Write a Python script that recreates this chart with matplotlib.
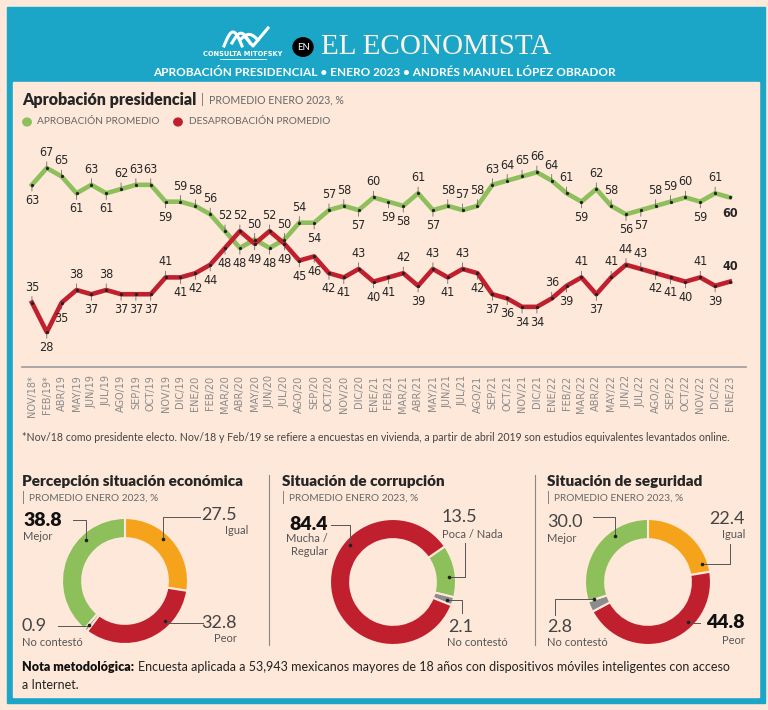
import numpy as np
import matplotlib
matplotlib.use('Agg')
import matplotlib.pyplot as plt
from matplotlib import font_manager
from matplotlib.lines import Line2D
from matplotlib.patches import Rectangle, Circle

# datos
meses = ['NOV/18*', 'FEB/19*', 'ABR/19', 'MAY/19', 'JUN/19', 'JUL/19', 'AGO/19', 'SEP/19',
         'OCT/19', 'NOV/19', 'DIC/19', 'ENE/20', 'FEB/20', 'MAR/20', 'ABR/20', 'MAY/20',
         'JUN/20', 'JUL/20', 'AGO/20', 'SEP/20', 'OCT/20', 'NOV/20', 'DIC/20', 'ENE/21',
         'FEB/21', 'MAR/21', 'ABR/21', 'MAY/21', 'JUN/21', 'JUL/21', 'AGO/21', 'SEP/21',
         'OCT/21', 'NOV/21', 'DIC/21', 'ENE/22', 'FEB/22', 'MAR/22', 'ABR/22', 'MAY/22',
         'JUN/22', 'JUL/22', 'AGO/22', 'SEP/22', 'OCT/22', 'NOV/22', 'DIC/22', 'ENE/23']
aprobacion = [63, 67, 65, 61, 63, 61, 62, 63, 63, 59, 59, 58, 56, 52, 48, 50,
              48, 50, 54, 54, 57, 58, 57, 60, 59, 58, 61, 57, 58, 57, 58, 63,
              64, 65, 66, 64, 61, 59, 62, 58, 56, 57, 58, 59, 60, 59, 61, 60]
desaprobacion = [35, 28, 35, 38, 37, 38, 37, 37, 37, 41, 41, 42, 44, 48, 52, 49,
                 52, 49, 45, 46, 42, 41, 43, 40, 41, 42, 39, 43, 41, 43, 42, 37,
                 36, 34, 34, 36, 39, 41, 37, 41, 44, 43, 42, 41, 40, 41, 39, 40]
# +1 etiqueta arriba, -1 abajo
pos_aprob = [-1, 1, 1, -1, 1, -1, 1, 1, 1, -1, 1, 1, 1, 1, -1, 1,
             -1, 1, 1, -1, 1, 1, -1, 1, -1, -1, 1, -1, 1, 1, 1, 1,
             1, 1, 1, 1, 1, -1, 1, 1, -1, -1, 1, 1, 1, -1, 1, -1]
pos_desap = [1, -1, -1, 1, -1, 1, -1, -1, -1, 1, -1, -1, -1, -1, 1, -1,
             1, -1, -1, -1, -1, -1, 1, -1, -1, 1, -1, 1, -1, 1, -1, -1,
             -1, -1, -1, 1, -1, 1, -1, 1, 1, 1, -1, -1, -1, 1, -1, 1]

econ_cat = ['Igual', 'Peor', 'No contestó', 'Mejor']
econ_val = [27.5, 32.8, 0.9, 38.8]
corr_cat = ['Poca / Nada', 'No contestó', 'Mucha /\nRegular']
corr_val = [13.5, 2.1, 84.4]
seg_cat = ['Igual', 'Peor', 'No contestó', 'Mejor']
seg_val = [22.4, 44.8, 2.8, 30.0]

W, H = 768, 710
BG = '#fde8d9'
BLUE = '#1ba6c8'
GREEN = '#8dbf5b'
RED = '#c0202e'
ORANGE = '#f6a31c'
GRIS = '#8c8c8c'
TXT = '#262626'
plt.rcParams['font.family'] = ['Lato', 'DejaVu Sans']

# fuente angosta para las cifras de la serie
fuentes = {(f.name, f.stretch) for f in font_manager.fontManager.ttflist}
if any(n == 'Liberation Sans Narrow' for n, s in fuentes):
    ANGOSTA = dict(family=['Liberation Sans Narrow', 'DejaVu Sans'])
    T_NUM, T_MES = 9.5, 8
elif ('DejaVu Sans', 'condensed') in fuentes:
    ANGOSTA = dict(family=['DejaVu Sans'], fontstretch='condensed')
    T_NUM, T_MES = 9, 7.8
else:
    ANGOSTA = dict(family=['Roboto', 'DejaVu Sans'])
    T_NUM, T_MES = 8.5, 7.2

fig = plt.figure(figsize=(W / 100, H / 100), dpi=100, facecolor=BG)


def fx(x):
    return x / W


def fy(y):
    return 1 - y / H


def caja(x0, y0, x1, y1, color):
    fig.patches.append(Rectangle((fx(x0), fy(y1)), (x1 - x0) / W, (y1 - y0) / H,
                                 transform=fig.transFigure, color=color, zorder=-5))


def linea(xs, ys, **kw):
    fig.add_artist(Line2D([fx(v) for v in xs], [fy(v) for v in ys],
                          transform=fig.transFigure, **kw))


def texto(x, y, s, **kw):
    kw.setdefault('va', 'center')
    kw.setdefault('color', TXT)
    return fig.text(fx(x), fy(y), s, **kw)


# marco y cabecera
caja(7, 7, 765, 703, BLUE)
caja(13, 82, 759, 697, BG)

# logo (simplificado)
texto(243, 54, 'CONSULTA MITOFSKY', ha='center', fontsize=5.3, fontweight='bold',
      color='white', **ANGOSTA)
linea([220, 266], [59, 59], color='white', lw=0.6)
t = np.linspace(0, 1, 30)
for k, (dx, dy) in enumerate([(0, 0), (8, -3), (16, -6)]):
    linea(224 + dx + 18 * t, 46 + dy - 14 * np.sin(np.pi * t) * (1 - 0.3 * k), color='white', lw=2.2)
linea([246, 253, 268], [38, 46, 28], color='white', lw=2.2)

fig.patches.append(Circle((fx(303), fy(47)), 10 / W, transform=fig.transFigure,
                          color='black', zorder=2))
texto(303, 47, 'EN', ha='center', fontsize=6.8, color='white', zorder=3)
texto(321, 47, 'EL ECONOMISTA', ha='left', fontsize=21, color='#fbf1e6',
      family=['Liberation Serif', 'DejaVu Serif'])
texto(384, 73, 'APROBACIÓN PRESIDENCIAL • ENERO 2023 • ANDRÉS MANUEL LÓPEZ OBRADOR',
      ha='center', fontsize=8.5, fontweight='bold', color='white')

# titulo serie
texto(22, 100, 'Aprobación presidencial', ha='left', fontsize=11.5, fontweight='heavy')
texto(201, 100, '|', ha='left', fontsize=9, color='#777777')
texto(209, 100, 'PROMEDIO ENERO 2023, %', ha='left', fontsize=7.6, color='#666666')
fig.patches.append(Circle((fx(27), fy(122)), 4.2 / W, transform=fig.transFigure, color=GREEN))
texto(37, 122, 'APROBACIÓN PROMEDIO', ha='left', fontsize=7.3, color='#666666')
fig.patches.append(Circle((fx(178), fy(122)), 4.2 / W, transform=fig.transFigure, color=RED))
texto(189, 122, 'DESAPROBACIÓN PROMEDIO', ha='left', fontsize=7.3, color='#666666')

# grafica de lineas
ax = fig.add_axes([fx(22), fy(367), (746 - 22) / W, (367 - 139) / H])
ax.set_facecolor('none')
x = np.arange(len(meses))
ax.plot(x, aprobacion, color=GREEN, lw=3.3, zorder=3)
ax.plot(x, desaprobacion, color=RED, lw=3.3, zorder=3)
ax.plot(x, aprobacion, 'o', ms=1.3, color='#222222', zorder=4)
ax.plot(x, desaprobacion, 'o', ms=1.3, color='#222222', zorder=4)
ax.set_xlim(-0.67, len(meses) - 1 + 1.08)
ax.set_ylim(19.7, 73.9)
for serie, pos in ((aprobacion, pos_aprob), (desaprobacion, pos_desap)):
    for i, (v, p) in enumerate(zip(serie, pos)):
        ultimo = i == len(serie) - 1
        ax.annotate(str(v), (i, v), xytext=(0, 6.5 * p), textcoords='offset points',
                    ha='center', va='bottom' if p > 0 else 'top', fontsize=T_NUM,
                    fontweight='bold' if ultimo else 'normal', color=TXT, **ANGOSTA,
                    arrowprops=None if ultimo else dict(arrowstyle='-', lw=0.5, color='#555555',
                                                        shrinkA=0, shrinkB=0))
ax.set_xticks(x)
ax.set_xticklabels(meses, rotation=90, fontsize=T_MES, color='#8a8a8a', **ANGOSTA)
ax.set_yticks([])
ax.tick_params(axis='x', length=0, pad=6)
for s in ('top', 'left', 'right'):
    ax.spines[s].set_visible(False)
ax.spines['bottom'].set_color('#9a9a9a')
ax.spines['bottom'].set_linewidth(1.2)

texto(22, 438, '*Nov/18 como presidente electo. Nov/18 y Feb/19 se refiere a encuestas en vivienda, '
      'a partir de abril 2019 son estudios equivalentes levantados online.',
      ha='left', fontsize=7.6, color='#444444')

# separadores
linea([269, 269], [475, 645], color='#888888', lw=0.8)
linea([535, 535], [475, 645], color='#888888', lw=0.8)

R = 63


def dona(cx, cy, valores, colores, inicio, titulo, tx, etiquetas):
    a = fig.add_axes([fx(cx - R), fy(cy + R), 2 * R / W, 2 * R / H])
    a.pie(valores, colors=colores, startangle=inicio, counterclock=False, radius=1,
          wedgeprops=dict(width=0.32, edgecolor=BG, linewidth=1.5))
    a.set_xlim(-1, 1)
    a.set_ylim(-1, 1)
    a.axis('off')
    texto(tx, 482, titulo, ha='left', fontsize=11, fontweight='heavy')
    texto(tx, 498, '|', ha='left', fontsize=9, color='#777777')
    texto(tx + 7, 498, 'PROMEDIO ENERO 2023, %', ha='left', fontsize=7.3, color='#666666')
    for e in etiquetas:
        ang = np.radians(e['ang'])
        axp = cx + 0.9 * R * np.cos(ang)
        ayp = cy - 0.9 * R * np.sin(ang)
        sx, sy = e['ini']
        if e['ruta'] == 'h':
            linea([sx, axp, axp], [sy, sy, ayp], color='#555555', lw=0.7)
        else:
            linea([sx, sx, axp], [sy, ayp, ayp], color='#555555', lw=0.7)
        linea([axp], [ayp], marker='o', ms=1.6, color='#222222')
        texto(e['x'], e['y'], e['val'], ha=e['ha'], fontsize=14 if e['neg'] else 13,
              fontweight='heavy' if e['neg'] else 'normal', color='#111111' if e['neg'] else '#444444')
        texto(e.get('cx', e['x']), e['cy'], e['cat'], ha=e['ha'], fontsize=8, color='#555555',
              va='top' if '\n' in e['cat'] else 'center', linespacing=1.25)


def fmt(v):
    return f'{v:.1f}'


dona(125, 581, econ_val, [ORANGE, RED, GRIS, GREEN], 90, 'Percepción situación económica', 22, [
    dict(val=fmt(econ_val[3]), cat=econ_cat[3], x=23, y=520, cy=537, ha='left', neg=True,
         ini=(73, 520), ruta='h', ang=134),
    dict(val=fmt(econ_val[0]), cat=econ_cat[0], x=237, cx=248, y=515, cy=531, ha='right', neg=False,
         ini=(200, 517), ruta='h', ang=48),
    dict(val=fmt(econ_val[2]), cat=econ_cat[2], x=22, y=626, cy=642, ha='left', neg=False,
         ini=(58, 626), ruta='h', ang=-129),
    dict(val=fmt(econ_val[1]), cat=econ_cat[1], x=237, y=623, cy=639, ha='right', neg=False,
         ini=(203, 623), ruta='h', ang=-45),
])

dona(393, 582, corr_val, [GREEN, GRIS, RED], 34.5, 'Situación de corrupción', 282, [
    dict(val=fmt(corr_val[2]), cat=corr_cat[2], x=328, y=525, cy=533, ha='right', neg=True,
         ini=(331, 525), ruta='h', ang=139),
    dict(val=fmt(corr_val[0]), cat=corr_cat[0], x=442, y=517, cy=535, ha='left', neg=False,
         ini=(465, 543), ruta='v', ang=5),
    dict(val=fmt(corr_val[1]), cat=corr_cat[1], x=448, cx=447, y=627, cy=642, ha='left', neg=False,
         ini=(462, 613), ruta='v', ang=-18),
])

dona(648, 582, seg_val, [ORANGE, RED, GRIS, GREEN], 90, 'Situación de seguridad', 547, [
    dict(val=fmt(seg_val[3]), cat=seg_cat[3], x=547, y=522, cy=539, ha='left', neg=False,
         ini=(593, 517), ruta='h', ang=125),
    dict(val=fmt(seg_val[0]), cat=seg_cat[0], x=745, y=519, cy=535, ha='right', neg=False,
         ini=(730, 544), ruta='v', ang=19),
    dict(val=fmt(seg_val[2]), cat=seg_cat[2], x=547, y=627, cy=642, ha='left', neg=False,
         ini=(555, 615), ruta='v', ang=-163),
    dict(val=fmt(seg_val[1]), cat=seg_cat[1], x=745, y=622, cy=640, ha='right', neg=True,
         ini=(700, 623), ruta='h', ang=-45),
])

# nota
nota = texto(22, 667, 'Nota metodológica:', ha='left', fontsize=9, fontweight='heavy', color='#111111')
caja_nota = nota.get_window_extent(renderer=fig.canvas.get_renderer())
texto(caja_nota.x1 + 4, 667, 'Encuesta aplicada a 53,943 mexicanos mayores de 18 años con dispositivos '
      'móviles inteligentes con acceso', ha='left', fontsize=9, color='#222222')
texto(22, 685, 'a Internet.', ha='left', fontsize=9, color='#222222')

fig.savefig('out.png', dpi=100, facecolor=BG)
